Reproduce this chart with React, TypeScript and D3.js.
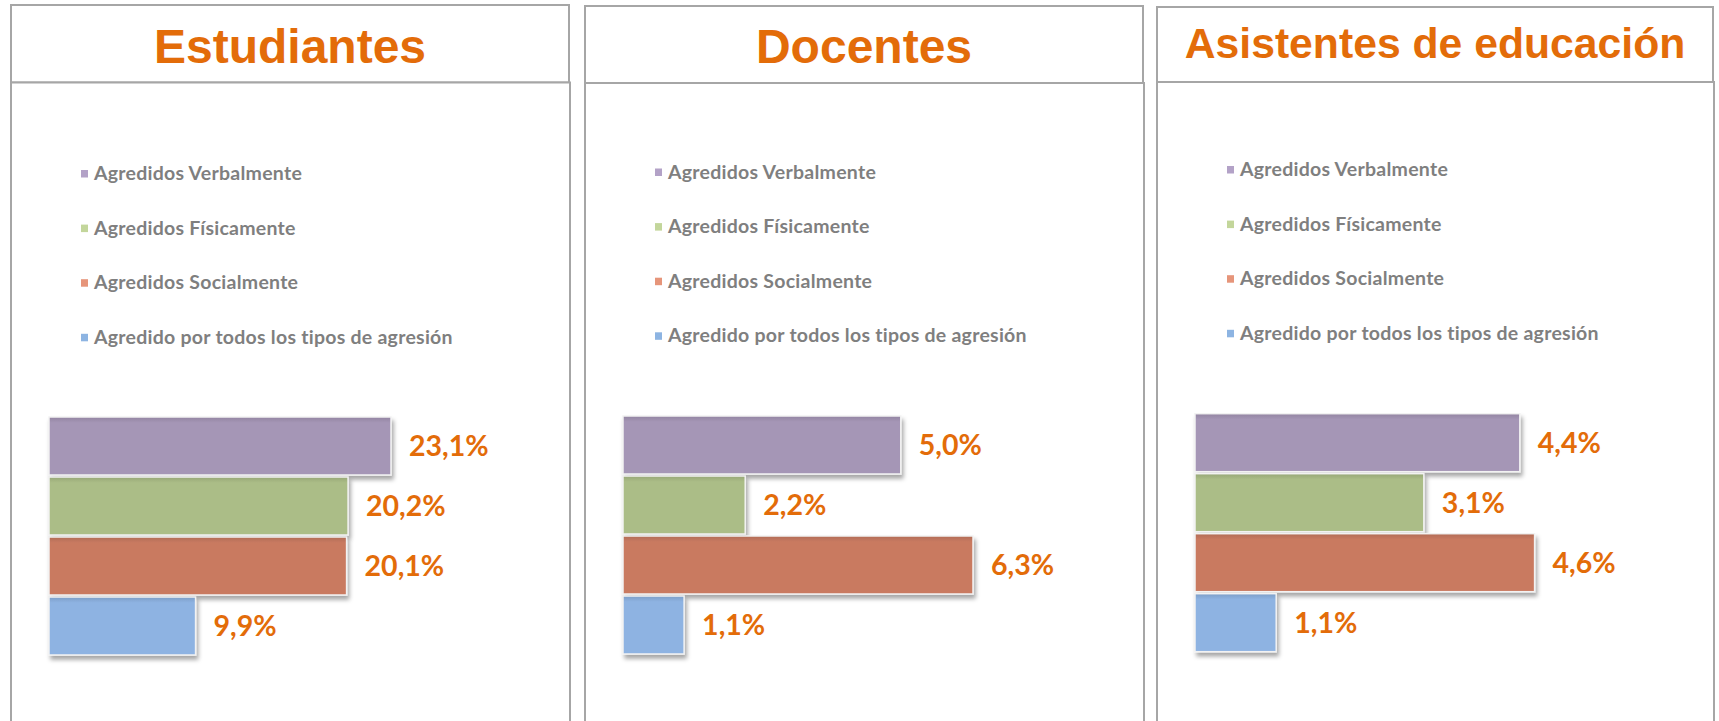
import React from "react";
import * as d3 from "d3";

// ---- Data ----
const categories = [
  "Agredidos Verbalmente",
  "Agredidos Físicamente",
  "Agredidos Socialmente",
  "Agredido por todos los tipos de agresión",
];
const groupTitles = ["Estudiantes", "Docentes", "Asistentes de educación"];
const estudiantes = [23.1, 20.2, 20.1, 9.9];
const docentes = [5.0, 2.2, 6.3, 1.1];
const asistentes = [4.4, 3.1, 4.6, 1.1];
const seriesByGroup = [estudiantes, docentes, asistentes];

// ---- Styles / layout ----
const W = 1719;
const H = 721;
const barColors = ["#A596B6", "#ABBD87", "#C97A61", "#8EB3E2"];
const legendColors = ["#B3A2C7", "#C3D69B", "#E6957A", "#8DB4E2"];
const orange = "#E36C09";
const border = "#A6A6A6";

const panelLefts = [11, 585, 1157];
const panelRights = [569, 1143, 1713];
const panelTops = [5, 6, 7];
const titleBottoms = [82.5, 83, 82];
const titleSizes = [48, 48, 42.7];
const titleBaselines = [63, 63, 58];
const legendTops = [180, 178.5, 176];
const legendStep = 54.6;
const barTops = [416, 415, 412.7];
const barMaxWidths = [342, 350, 339.6];
const bandTotal = 240;

const fmt = (v: number) => v.toFixed(1).replace(".", ",") + "%";

function Panel({ i }: { i: number }) {
  const values = seriesByGroup[i];
  const left = panelLefts[i];
  const right = panelRights[i];
  const top = panelTops[i];
  const plotLeft = left + 38;
  const x = d3
    .scaleLinear()
    .domain([0, d3.max(values) as number])
    .range([plotLeft, plotLeft + barMaxWidths[i]]);
  const y = d3
    .scaleBand<string>()
    .domain(categories)
    .range([barTops[i], barTops[i] + bandTotal])
    .paddingInner(0);
  const legendX = left + 83;
  return (
    <g>
      {/* title box */}
      <rect
        x={left}
        y={top}
        width={right - left}
        height={titleBottoms[i] - top}
        fill="#fff"
        stroke={border}
        strokeWidth={2}
      />
      <text
        x={(left + right) / 2}
        y={titleBaselines[i]}
        textAnchor="middle"
        fontFamily="'Liberation Sans', Arial, sans-serif"
        fontWeight="bold"
        fontSize={titleSizes[i]}
        fill={orange}
      >
        {groupTitles[i]}
      </text>
      {/* body box */}
      <rect
        x={left}
        y={titleBottoms[i]}
        width={right - left + 1}
        height={H + 20 - titleBottoms[i]}
        fill="#fff"
        stroke={border}
        strokeWidth={2}
      />
      {/* legend */}
      {categories.map((c, k) => {
        const by = legendTops[i] + k * legendStep;
        return (
          <g key={c}>
            <rect x={legendX - 13} y={by - 10} width={7} height={7.5} fill={legendColors[k]} />
            <text
              x={legendX}
              y={by}
              fontFamily="Lato, 'Open Sans', sans-serif"
              fontWeight="bold"
              fontSize={19.5}
              letterSpacing={0.25}
              fill="#7F7F7F"
            >
              {c}
            </text>
          </g>
        );
      })}
      {/* bars */}
      {categories.map((c, k) => {
        const y0 = (y(c) as number) + 1;
        const h = y.bandwidth() - 2;
        const x1 = x(values[k]);
        return (
          <g key={c}>
            <rect
              x={plotLeft}
              y={y0}
              width={x1 - plotLeft}
              height={h}
              fill={`url(#grad${k})`}
              stroke="#F2F2F2"
              strokeWidth={1.5}
              filter="url(#shadow)"
            />
            <text
              x={x1 + 18}
              y={y0 + h / 2}
              dy="0.36em"
              fontFamily="Lato, 'Open Sans', sans-serif"
              fontWeight="bold"
              fontSize={28.5}
              fill={orange}
            >
              {fmt(values[k])}
            </text>
          </g>
        );
      })}
    </g>
  );
}

export default function App() {
  return (
    <svg
      width={W}
      height={H}
      style={{ position: "absolute", left: 0, top: 0, display: "block", background: "#fff" }}
    >
      <defs>
        <filter id="shadow" x="-10%" y="-20%" width="130%" height="160%">
          <feDropShadow dx="2" dy="4" stdDeviation="2.2" floodColor="#000" floodOpacity="0.35" />
        </filter>
        {barColors.map((col, k) => {
          const dark = d3.color(col)!.darker(0.35).formatHex();
          return (
            <linearGradient key={k} id={`grad${k}`} x1="0" y1="0" x2="0" y2="1">
              <stop offset="0%" stopColor={dark} />
              <stop offset="10%" stopColor={col} />
              <stop offset="100%" stopColor={col} />
            </linearGradient>
          );
        })}
      </defs>
      <rect x={0} y={0} width={W} height={H} fill="#fff" />
      {groupTitles.map((_, i) => (
        <Panel key={i} i={i} />
      ))}
    </svg>
  );
}
